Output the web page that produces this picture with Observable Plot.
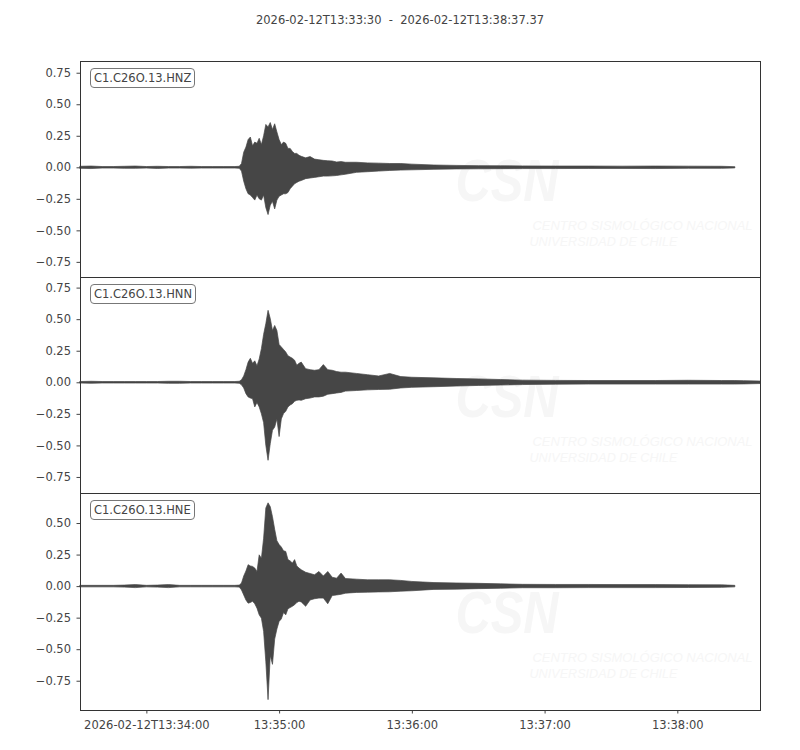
<!DOCTYPE html>
<html>
<head>
<meta charset="utf-8">
<script src="https://cdn.jsdelivr.net/npm/d3@7"></script>
<script src="https://cdn.jsdelivr.net/npm/@observablehq/plot@0.6"></script>
<style>
  body { margin: 0; background: #fff; font-family: "DejaVu Sans", sans-serif; color: #444; }
  #title { width: 800px; height: 40px; line-height: 40px; text-align: center; font-size: 11.5px; white-space: pre; }
  .panel { position: relative; width: 800px; }
  .panel svg { display: block; overflow: visible; }
  .tag { position: absolute; left: 90px; font-size: 11.5px; line-height: 14px; padding: 2px 3px;
         border: 1.2px solid #777; border-radius: 4px; background: #fff; color: #444; }
</style>
</head>
<body>
<div id="title"></div>
<div id="chart"></div>
<script>
const start = "2026-02-12T13:33:30";
const end = "2026-02-12T13:38:37.37";
const channels = ["C1.C26O.13.HNZ", "C1.C26O.13.HNN", "C1.C26O.13.HNE"];

// seconds after start, shared by the three traces
const secs = [0, 5, 10, 15, 20, 25, 30, 35, 40, 45, 50, 55, 60, 65, 70, 72,
  73, 74, 75, 76, 77, 78, 79, 80, 81, 82, 83, 84, 85, 86, 87, 88, 89, 90,
  91, 92, 93, 94, 95, 96, 97, 98, 99, 100,
  102, 104, 106, 108, 110, 112, 114, 116, 118, 120,
  125, 130, 135, 140, 145, 150,
  160, 170, 180, 190, 200, 215, 230, 245, 260, 275, 290, 296, 300, 307.37];

// envelope of each trace (max / min per time step)
const hnzHi = [0.008, 0.010, 0.006, 0.006, 0.008, 0.010, 0.006, 0.008, 0.006, 0.006, 0.008, 0.006, 0.006, 0.006, 0.006, 0.008,
  0.03, 0.12, 0.16, 0.22, 0.24, 0.17, 0.20, 0.19, 0.23, 0.18, 0.25, 0.34, 0.32, 0.355, 0.30, 0.345, 0.28, 0.22,
  0.18, 0.20, 0.19, 0.15, 0.15, 0.125, 0.11, 0.11, 0.095, 0.087,
  0.075, 0.085, 0.065, 0.06, 0.055, 0.052, 0.05, 0.042, 0.045, 0.04,
  0.04, 0.035, 0.033, 0.03, 0.03, 0.025,
  0.018, 0.015, 0.013, 0.012, 0.011, 0.010, 0.010, 0.009, 0.010, 0.009, 0.008, 0.005, null, null];
const hnzLo = [-0.008, -0.010, -0.006, -0.006, -0.008, -0.008, -0.006, -0.009, -0.006, -0.006, -0.007, -0.006, -0.006, -0.006, -0.006, -0.008,
  -0.03, -0.11, -0.17, -0.21, -0.22, -0.24, -0.26, -0.22, -0.25, -0.26, -0.22, -0.32, -0.375, -0.30, -0.27, -0.33, -0.26, -0.23,
  -0.22, -0.21, -0.21, -0.20, -0.17, -0.15, -0.13, -0.12, -0.11, -0.105,
  -0.09, -0.085, -0.08, -0.075, -0.07, -0.07, -0.068, -0.065, -0.06, -0.055,
  -0.04, -0.035, -0.03, -0.025, -0.022, -0.02,
  -0.016, -0.013, -0.012, -0.011, -0.010, -0.010, -0.009, -0.009, -0.010, -0.008, -0.008, -0.005, null, null];

const hnnHi = [0.006, 0.008, 0.006, 0.006, 0.006, 0.006, 0.006, 0.006, 0.008, 0.008, 0.006, 0.006, 0.006, 0.006, 0.006, 0.008,
  0.02, 0.05, 0.10, 0.16, 0.19, 0.15, 0.17, 0.13, 0.185, 0.267, 0.38, 0.465, 0.57, 0.505, 0.41, 0.45, 0.41, 0.30,
  0.28, 0.26, 0.24, 0.21, 0.20, 0.19, 0.175, 0.135, 0.15, 0.16,
  0.108, 0.10, 0.095, 0.10, 0.14, 0.10, 0.095, 0.085, 0.08, 0.08,
  0.07, 0.06, 0.05, 0.07, 0.045, 0.04,
  0.035, 0.03, 0.027, 0.022, 0.017, 0.015, 0.014, 0.014, 0.014, 0.016, 0.014, 0.014, 0.013, 0.010];
const hnnLo = [-0.006, -0.008, -0.006, -0.006, -0.006, -0.006, -0.006, -0.006, -0.008, -0.008, -0.006, -0.006, -0.006, -0.006, -0.006, -0.008,
  -0.02, -0.045, -0.09, -0.116, -0.125, -0.13, -0.195, -0.16, -0.195, -0.25, -0.32, -0.50, -0.618, -0.486, -0.38, -0.355, -0.29, -0.43,
  -0.29, -0.248, -0.23, -0.195, -0.18, -0.17, -0.15, -0.143, -0.14, -0.143,
  -0.13, -0.125, -0.116, -0.116, -0.11, -0.095, -0.09, -0.085, -0.08, -0.07,
  -0.065, -0.06, -0.057, -0.055, -0.045, -0.04,
  -0.035, -0.03, -0.025, -0.022, -0.018, -0.015, -0.014, -0.014, -0.014, -0.014, -0.014, -0.014, -0.013, -0.010];

const hneHi = [0.006, 0.006, 0.006, 0.006, 0.008, 0.012, 0.006, 0.008, 0.012, 0.006, 0.006, 0.006, 0.006, 0.006, 0.006, 0.008,
  0.024, 0.08, 0.12, 0.17, 0.16, 0.156, 0.143, 0.116, 0.248, 0.22, 0.38, 0.62, 0.66, 0.63, 0.55, 0.45, 0.36, 0.33,
  0.31, 0.28, 0.275, 0.21, 0.20, 0.183, 0.21, 0.16, 0.143, 0.13,
  0.11, 0.10, 0.09, 0.116, 0.08, 0.116, 0.07, 0.063, 0.103, 0.06,
  0.055, 0.05, 0.05, 0.05, 0.045, 0.037,
  0.028, 0.025, 0.022, 0.018, 0.014, 0.013, 0.013, 0.012, 0.012, 0.011, 0.010, 0.006, null, null];
const hneLo = [-0.006, -0.006, -0.006, -0.006, -0.008, -0.012, -0.006, -0.008, -0.012, -0.006, -0.006, -0.006, -0.006, -0.006, -0.006, -0.008,
  -0.03, -0.07, -0.11, -0.135, -0.13, -0.12, -0.14, -0.175, -0.228, -0.254, -0.36, -0.60, -0.90, -0.55, -0.62, -0.42, -0.34, -0.28,
  -0.26, -0.21, -0.228, -0.18, -0.17, -0.16, -0.148, -0.13, -0.12, -0.125,
  -0.16, -0.11, -0.10, -0.095, -0.095, -0.14, -0.075, -0.07, -0.065, -0.056,
  -0.05, -0.048, -0.046, -0.045, -0.04, -0.037,
  -0.026, -0.024, -0.02, -0.017, -0.013, -0.013, -0.012, -0.012, -0.012, -0.011, -0.010, -0.006, null, null];

const traces = [[hnzLo, hnzHi], [hnnLo, hnnHi], [hneLo, hneHi]];
const yDomains = [[-0.870, 0.843], [-0.877, 0.834], [-0.982, 0.738]];
const yTicks = [-0.75, -0.5, -0.25, 0, 0.25, 0.5, 0.75];

const t0 = new Date(start + "Z");
const t1 = new Date(end + "Z");
const minutes = d3.utcMinute.range(t0, t1);
const fmtFull = d3.utcFormat("%Y-%m-%dT%H:%M:%S");
const fmtShort = d3.utcFormat("%H:%M:%S");

document.getElementById("title").textContent = `${start}  -  ${end}`;

const ink = "#464646";
const faint = "#f6f6f6";
const frameH = [216, 216, 217];
const chart = document.getElementById("chart");

traces.forEach(([lo, hi], i) => {
  const rows = secs.map((s, j) => ({time: new Date(+t0 + s * 1000), lo: lo[j], hi: hi[j]}));
  const last = i === traces.length - 1;
  const top = i === 0 ? 21 : 0;
  const bottom = last ? 40 : 0;
  const dom = yDomains[i];

  const svg = Plot.plot({
    width: 800,
    height: top + frameH[i] + bottom,
    marginLeft: 80,
    marginRight: 40,
    marginTop: top,
    marginBottom: bottom,
    style: {fontFamily: "DejaVu Sans", fontSize: "11.5px", color: "#444", background: "transparent", overflow: "visible"},
    x: {
      type: "utc",
      domain: [t0, t1],
      axis: last ? "bottom" : null,
      ticks: minutes,
      tickFormat: (d) => (+d === +minutes[0] ? fmtFull(d) : fmtShort(d)),
      tickSize: 3.5,
      tickPadding: 7,
      label: null
    },
    y: {
      domain: dom,
      ticks: yTicks.filter((v) => v >= dom[0] && v <= dom[1]),
      tickFormat: d3.format(".2f"),
      tickSize: 3.5,
      tickPadding: 6,
      label: null
    },
    marks: [
      // CSN watermark
      Plot.text(["CSN"], {frameAnchor: "top-left", dx: 375, dy: 120, textAnchor: "start", lineAnchor: "middle",
        fontSize: 60, fontStyle: "italic", fontWeight: "bold", fontFamily: "Liberation Sans", fill: faint}),
      Plot.text(["CENTRO SISMOLÓGICO NACIONAL"], {frameAnchor: "top-left", dx: 452, dy: 165, textAnchor: "start",
        lineAnchor: "middle", fontSize: 12, fontStyle: "italic", fontFamily: "Liberation Sans", fill: faint}),
      Plot.text(["UNIVERSIDAD DE CHILE"], {frameAnchor: "top-left", dx: 449, dy: 181, textAnchor: "start",
        lineAnchor: "middle", fontSize: 12, fontStyle: "italic", fontFamily: "Liberation Sans", fill: faint}),
      Plot.areaY(rows, {x: "time", y1: "lo", y2: "hi", fill: ink, stroke: ink, strokeWidth: 0.7}),
      Plot.frame({stroke: "#333", strokeWidth: 1})
    ]
  });

  // squeeze the watermark text to its narrow width
  const widths = {"CSN": 103, "CENTRO SISMOLÓGICO NACIONAL": 220, "UNIVERSIDAD DE CHILE": 148};
  d3.select(svg).selectAll("text").each(function () {
    const w = widths[this.textContent];
    if (w) {
      this.setAttribute("textLength", w);
      this.setAttribute("lengthAdjust", "spacingAndGlyphs");
    }
  });

  const panel = document.createElement("div");
  panel.className = "panel";
  panel.appendChild(svg);
  const tag = document.createElement("div");
  tag.className = "tag";
  tag.style.top = (top + 7) + "px";
  tag.textContent = channels[i];
  panel.appendChild(tag);
  chart.appendChild(panel);
});
</script>
</body>
</html>
